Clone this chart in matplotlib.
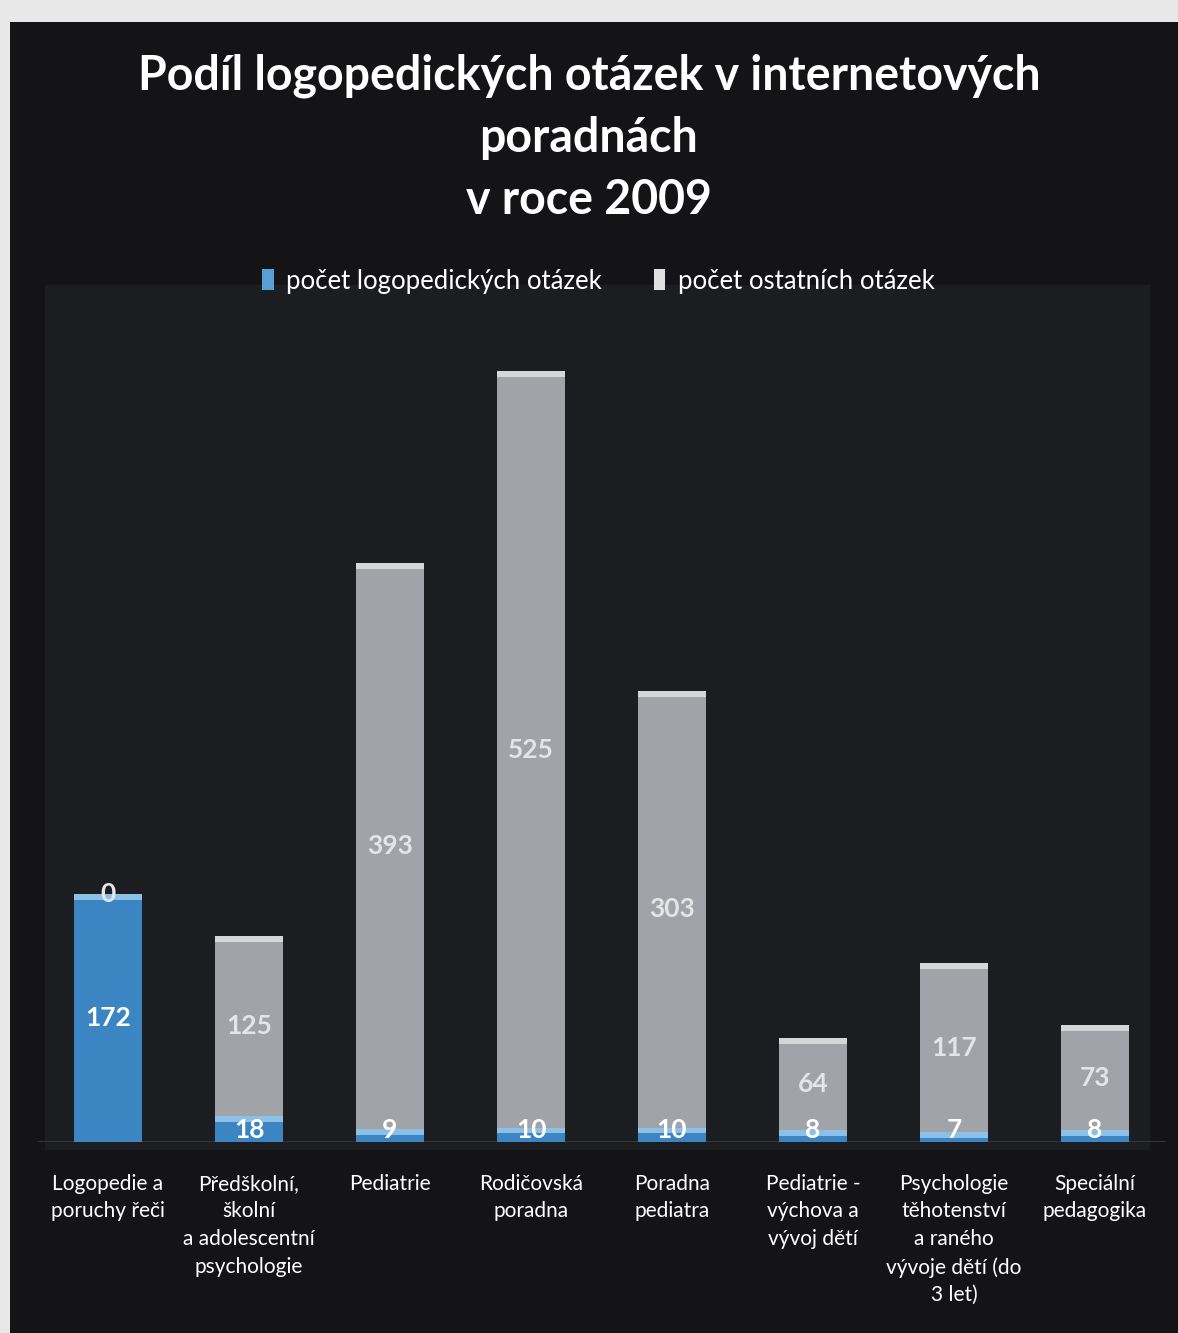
import matplotlib
matplotlib.use("Agg")
import matplotlib.pyplot as plt
from matplotlib.patches import Rectangle

categories = [
    "Logopedie a\nporuchy řeči",
    "Předškolní,\nškolní\na adolescentní\npsychologie",
    "Pediatrie",
    "Rodičovská\nporadna",
    "Poradna\npediatra",
    "Pediatrie -\nvýchova a\nvývoj dětí",
    "Psychologie\ntěhotenství\na raného\nvývoje dětí (do\n3 let)",
    "Speciální\npedagogika",
]
logo = [172, 18, 9, 10, 10, 8, 7, 8]
other = [0, 125, 393, 525, 303, 64, 117, 73]
series_names = ["počet logopedických otázek", "počet ostatních otázek"]
title = "Podíl logopedických otázek v internetových\nporadnách\nv roce 2009"

plt.rcParams['font.family'] = ['Lato', 'DejaVu Sans']

W, H = 1178, 1333
fig = plt.figure(figsize=(W / 100, H / 100), dpi=100, facecolor="#e8e8e8")

# dark photographed background
fig.patches.append(Rectangle((10 / W, 0), 1 - 10 / W, 1 - 22 / H, transform=fig.transFigure,
                             facecolor="#141417", edgecolor="none", zorder=-10))
# slightly lighter plot area
fig.patches.append(Rectangle((45 / W, 1 - 1150 / H), (1150 - 45) / W, (1150 - 285) / H,
                             transform=fig.transFigure, facecolor="#1c1d21", edgecolor="none", zorder=-9))

left = 37.5 / W
right = 1165.5 / W
bottom = 1 - 1142 / H
top = 1 - 285 / H
ax = fig.add_axes([left, bottom, right - left, top - bottom])
ax.set_facecolor("none")
ax.set_zorder(5)

x = list(range(len(categories)))
bw = 0.48
blue = "#3b86c2"
gray = "#a0a3a7"
b1 = ax.bar(x, logo, width=bw, color=blue, edgecolor="none", zorder=2)
b2 = ax.bar(x, other, width=bw, bottom=logo, color=gray, edgecolor="none", zorder=2)

# light top bevel
for bars, vals, base, col in ((b2, other, logo, "#d4d6d8"), (b1, logo, [0] * len(logo), "#8cc0e6")):
    for rect, v, b0 in zip(bars, vals, base):
        if v > 0:
            h = min(4, v)
            ax.bar(rect.get_x() + rect.get_width() / 2, h, width=bw,
                   bottom=b0 + v - h, color=col, edgecolor="none", zorder=3)

ax.set_xlim(-0.5, len(categories) - 0.5)
ax.set_ylim(0, 595)
ax.axhline(0, color="#3a3b40", lw=1.2, zorder=1)
for s in ax.spines.values():
    s.set_visible(False)
ax.set_yticks([])
ax.set_xticks([])

# value labels
for i in x:
    ax.text(i, logo[i] / 2 if logo[i] > 50 else 8, str(logo[i]), ha="center", va="center",
            color="white", fontsize=19, fontweight="bold", zorder=4)
    ax.text(i, logo[i] + other[i] / 2, str(other[i]), ha="center", va="center",
            color="#e4e5e7", fontsize=19, fontweight="bold", zorder=4)

# category labels
for i, c in enumerate(categories):
    ax.text(i, -22, c, ha="center", va="top", color="white", fontsize=15,
            linespacing=1.48, zorder=4, clip_on=False)

fig.text(0.5, 1 - 138 / H, title, ha="center", va="center", color="white",
         fontsize=33.5, fontweight="bold", linespacing=1.5)

handles = [Rectangle((0, 0), 1, 1, facecolor="#5a9fd4"), Rectangle((0, 0), 1, 1, facecolor="#e0e0e0")]
leg = fig.legend(handles, series_names, loc="center", bbox_to_anchor=(0.508, 1 - 281 / H),
                 ncol=2, frameon=False, fontsize=18.5, labelcolor="white",
                 handlelength=0.45, handleheight=0.9, handletextpad=0.5, columnspacing=2.0)

fig.savefig("out.png", dpi=100, facecolor=fig.get_facecolor())
